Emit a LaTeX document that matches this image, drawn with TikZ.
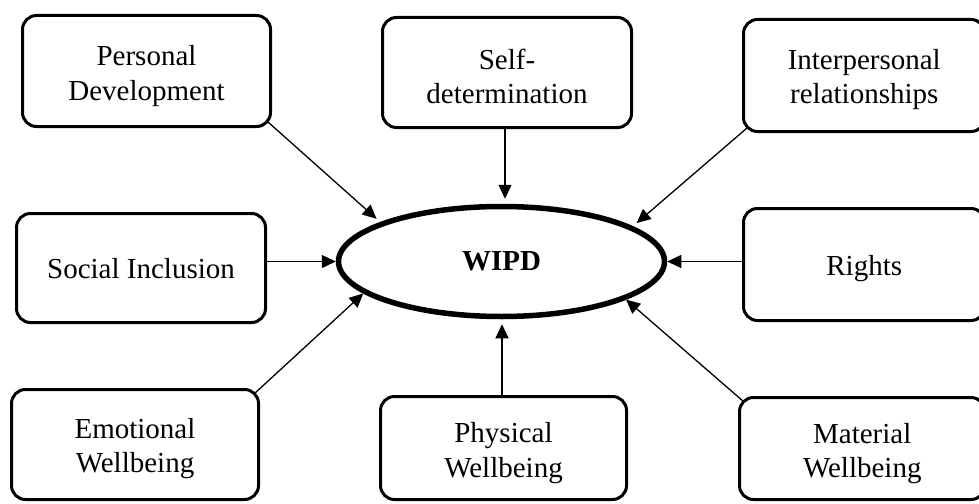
\documentclass[tikz,border=0pt]{standalone}
\usepackage{fontspec}
\setmainfont{Liberation Serif}
\usetikzlibrary{arrows.meta,shapes.geometric}
\begin{document}
\begin{tikzpicture}[x=1pt,y=-1pt,
  box/.style={draw, line width=3pt, rounded corners=14pt, inner sep=0pt, outer sep=0pt},
  lbl/.style={align=center, font=\fontsize{29}{34.5}\selectfont, inner sep=0pt},
  arr/.style={line width=1.3pt, -{Triangle[length=14pt,width=13pt]}},
  hub/.style={draw, ellipse, line width=5.5pt, inner sep=0pt,
    minimum width=326pt, minimum height=110pt,
    font=\fontsize{29}{34.5}\selectfont\bfseries}
]
\useasboundingbox (0,0) rectangle (979,503);

\node[box, minimum width=248pt, minimum height=111pt,
  label={[lbl, yshift=-5pt]center:{Personal\\Development}}] (pd) at (146.5,71) {};
\node[box, minimum width=249pt, minimum height=110pt,
  label={[lbl, yshift=-4pt]center:{Self-\\determination}}] (sd) at (507,72.5) {};
\node[box, minimum width=241.5pt, minimum height=112pt,
  label={[lbl, yshift=-4pt]center:{Interpersonal\\relationships}}] (ir) at (864.25,75.5) {};
\node[box, minimum width=249pt, minimum height=109pt,
  label={[lbl, yshift=-1pt]center:{Social Inclusion}}] (si) at (141,268) {};
\node[box, minimum width=241.5pt, minimum height=112pt,
  label={[lbl, yshift=-4pt]center:{Rights}}] (r) at (864.25,264.5) {};
\node[box, minimum width=247pt, minimum height=110pt,
  label={[lbl, yshift=-4pt]center:{Emotional\\Wellbeing}}] (ew) at (135,444.5) {};
\node[box, minimum width=246pt, minimum height=103pt,
  label={[lbl, yshift=-5pt]center:{Physical\\Wellbeing}}] (pw) at (503.5,448) {};
\node[box, minimum width=245.5pt, minimum height=102pt,
  label={[lbl, yshift=-5pt]center:{Material\\Wellbeing}}] (mw) at (862.25,448.5) {};

\node[hub] (w) at (501.5,261.5) {\raisebox{-2pt}{WIPD}};

\draw[arr, shorten >=5pt] ([shift={(-2.5pt,4.5pt)}]pd.south east) -- (w.162);
\draw[arr, shorten >=5pt] ([xshift=-2pt]sd.south) -- ([xshift=-2pt]sd.south |- w.north);
\draw[arr, shorten >=5pt] ([shift={(3.5pt,3.5pt)}]ir.south west) -- (w.15);
\draw[arr] (si.east |- w.west) -- (w.west);
\draw[arr] (r.west |- w.east) -- (w.east);
\draw[arr] ([shift={(-4pt,-4pt)}]ew.north east) -- (w.193);
\draw[arr, shorten >=5pt] ([xshift=-1.5pt]pw.north) -- ([xshift=-1.5pt]pw.north |- w.south);
\draw[arr] ([shift={(4pt,-4pt)}]mw.north west) -- (w.-17);
\end{tikzpicture}
\end{document}
